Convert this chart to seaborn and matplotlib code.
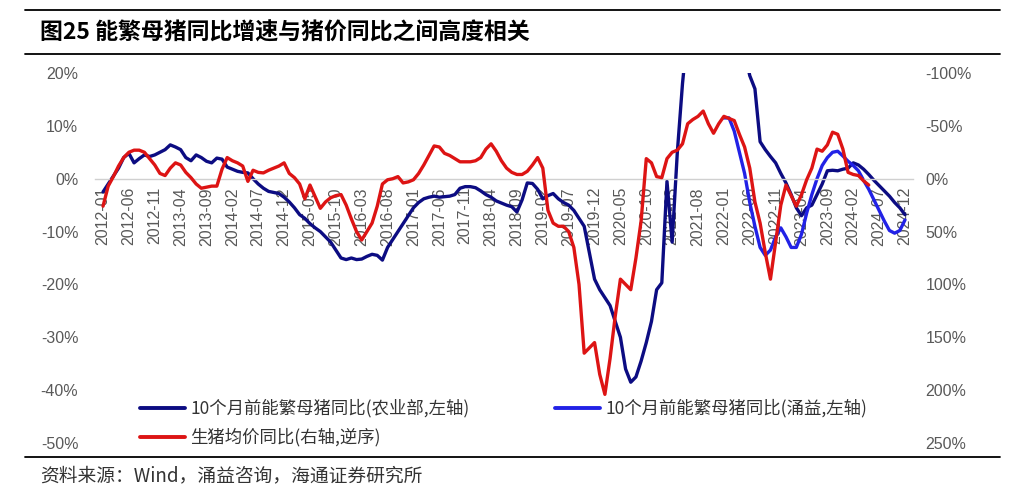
import numpy as np
import pandas as pd
import matplotlib
matplotlib.use("Agg")
import matplotlib.pyplot as plt
import seaborn as sns
from matplotlib.lines import Line2D

sns.set_theme(style="white")
plt.rcParams['font.family'] = ['Noto Sans CJK SC', 'DejaVu Sans']
plt.rcParams['axes.unicode_minus'] = False

# ---------------- data ----------------
months = pd.period_range("2012-01", "2024-12", freq="M").strftime("%Y-%m").tolist()

# 10个月前能繁母猪同比(农业部,左轴), %
sow_moa = [
    -2.5, -1.0, 0.5, 2.0, 4.0, 4.8, 3.0, 3.8, 4.5, 4.2,
    4.5, 5.0, 5.5, 6.4, 6.0, 5.5, 4.0, 3.4, 4.5, 4.0,
    3.3, 3.0, 3.9, 3.7, 2.2, 1.8, 1.4, 1.2, 1.1, 0.0,
    -1.0, -1.8, -2.4, -2.6, -2.8, -3.5, -4.4, -5.5, -6.8, -7.5,
    -8.5, -9.3, -10.0, -11.0, -12.0, -13.5, -15.0, -15.3, -15.0, -15.3,
    -15.2, -14.7, -14.3, -14.5, -15.4, -13.0, -11.5, -10.0, -8.5, -7.0,
    -5.5, -4.5, -3.8, -3.5, -3.3, -3.5, -3.4, -3.3, -3.0, -1.8,
    -1.5, -1.5, -1.7, -2.3, -3.0, -3.5, -4.2, -4.6, -5.0, -5.3,
    -6.3, -4.0, -0.8, -0.9, -2.0, -3.8, -3.2, -2.8, -3.8, -4.5,
    -5.0, -6.0, -7.5, -9.0, -14.0, -19.0, -21.0, -22.5, -24.0, -27.0,
    -30.0, -36.0, -38.5, -37.5, -34.5, -31.0, -27.0, -21.0, -19.7, -0.5,
    -12.0, 5.0, 18.0, 28.0, 35.0, 40.0, 45.0, 50.0, 52.0, 50.0,
    45.0, 40.0, 35.0, 30.0, 24.0, 19.5, 17.0, 7.0, 5.5, 4.2,
    3.0, 1.0, -0.8, -3.0, -5.5, -7.0, -5.5, -5.0, -3.0, -1.0,
    1.5, 1.6, 1.5, 1.8, 2.0, 3.0, 2.6, 1.8, 0.8, -0.3,
    -1.3, -2.3, -3.3, -4.5, -5.5, -6.8,
]

# 10个月前能繁母猪同比(涌益,左轴), %, from 2022-01
sow_yy_start = "2022-01"
sow_yy = [
    11.5, 11.5, 9.0, 5.0, 1.0, -4.5, -9.0, -13.0, -14.5, -13.5,
    -11.0, -9.3, -11.0, -13.0, -13.0, -10.5, -6.5, -3.0, 0.0, 2.5,
    4.0, 5.0, 5.2, 4.3, 3.3, 2.5, 1.5, -0.3, -2.0, -4.0,
    -6.0, -8.0, -9.8, -10.3, -9.8, -7.8,
]

# 生猪均价同比(右轴,逆序), %
hog_price = [
    26, 7, -2, -12, -20, -25, -27, -27, -25, -19,
    -13, -5, -3, -10, -15, -13, -6, -1, 5, 9,
    8, 7, 7, -9, -20, -17, -15, -12, 2.5, -8,
    -6, -5.5, -8, -10, -12, -15, -5, -1, 5, 19,
    6, 17, 28, 22, 18, 16, 15, 25, 38, 50,
    58, 50, 42, 26, 5, 1, 0, -2, 4, 3,
    1, -5, -13, -22, -31, -30, -24, -22, -19, -16,
    -16, -16, -17, -20, -28, -33, -26, -17, -10, -6,
    -4, -4, -7, -13, -20, -10, 30, 42, 45, 45,
    50, 65, 100, 165, 160, 155, 185, 204, 170, 130,
    95, 100, 105, 75, 40, -19, -15, -2, -1, -19,
    -25, -27, -33, -52, -56, -59, -64, -52, -43, -52,
    -59, -57, -55, -42, -30, -10, 22, 42, 70, 95,
    60, 25, 6, 16, 26, 15, 1, -10, -28, -26,
    -32, -44, -42, -28, -6, -4, -3, 2, 6,
]

x_ticks = months[::5]

# ---------------- frames ----------------
idx = np.arange(len(months))
df_moa = pd.DataFrame({"i": idx[:len(sow_moa)], "v": sow_moa})
s0 = months.index(sow_yy_start)
df_yy = pd.DataFrame({"i": idx[s0:s0 + len(sow_yy)], "v": sow_yy})
df_hog = pd.DataFrame({"i": idx[:len(hog_price)], "v": hog_price})

NAVY = "#0C0C82"
BLUE = "#2222E6"
RED = "#DD1414"
GRAY = "#595959"

fig = plt.figure(figsize=(10.24, 5.04), dpi=100)
ax = fig.add_axes([95 / 1024, (504 - 443) / 504, (913 - 95) / 1024, (443 - 73) / 504])
ax2 = ax.twinx()

sns.lineplot(data=df_moa, x="i", y="v", ax=ax, color=NAVY, lw=2.4)
sns.lineplot(data=df_yy, x="i", y="v", ax=ax, color=BLUE, lw=2.4)
sns.lineplot(data=df_hog, x="i", y="v", ax=ax2, color=RED, lw=2.4)

ax.set_ylim(-50, 20)
ax2.set_ylim(250, -100)
ax.set_xlim(-1.55, len(months) - 1 + 1.55)

ax.set_yticks(np.arange(-50, 21, 10))
ax.set_yticklabels([f"{v}%" for v in range(-50, 21, 10)])
ax2.set_yticks(np.arange(-100, 251, 50))
ax2.set_yticklabels([f"{v}%" for v in range(-100, 251, 50)])

tick_pos = [months.index(m) for m in x_ticks]
ax.set_xticks(tick_pos)
ax.set_xticklabels(x_ticks)

for a in (ax, ax2):
    a.set_xlabel("")
    a.set_ylabel("")
    a.grid(False)
    for s in ("top", "left", "right", "bottom"):
        a.spines[s].set_visible(False)
    a.patch.set_visible(False)

ax.spines["bottom"].set_visible(True)
ax.spines["bottom"].set_position(("data", 0))
ax.spines["bottom"].set_color("#D0D0D0")
ax.spines["bottom"].set_linewidth(1.0)

ax.tick_params(axis="x", direction="out", length=4, width=1, color="#C8C8C8", pad=2,
               labelrotation=90, labelsize=11.5, labelcolor=GRAY)
ax.tick_params(axis="y", length=0, pad=12, labelsize=11.5, labelcolor=GRAY)
ax2.tick_params(axis="y", length=0, pad=9, labelsize=11.5, labelcolor=GRAY)
for lab in ax.get_xticklabels() + ax.get_yticklabels() + ax2.get_yticklabels():
    lab.set_family(['Liberation Sans', 'DejaVu Sans'])

# ---------------- legend ----------------
h_navy = Line2D([], [], color=NAVY, lw=2.8)
h_blue = Line2D([], [], color=BLUE, lw=2.8)
h_red = Line2D([], [], color=RED, lw=2.8)
leg_kw = dict(frameon=False, fontsize=12.5, handlelength=2.6, handletextpad=0.3,
              borderpad=0, borderaxespad=0, labelspacing=0.6, loc="upper left")
leg1 = fig.legend([h_navy, h_red], ["10个月前能繁母猪同比(农业部,左轴)", "生猪均价同比(右轴,逆序)"],
                  bbox_to_anchor=(140 / 1024, (504 - 399) / 504), **leg_kw)
leg2 = fig.legend([h_blue], ["10个月前能繁母猪同比(涌益,左轴)"],
                  bbox_to_anchor=(555 / 1024, (504 - 399) / 504), **leg_kw)
for t in leg1.get_texts() + leg2.get_texts():
    t.set_color("#333333")

# ---------------- title / frame lines / source ----------------
def hline(ypx, lw):
    fig.add_artist(Line2D([25 / 1024, 1000 / 1024], [(504 - ypx) / 504] * 2,
                          transform=fig.transFigure, color="black", lw=lw))

hline(10, 1.3)
hline(54, 1.3)
hline(457, 1.3)

fig.text(40 / 1024, (504 - 33) / 504, "图25 能繁母猪同比增速与猪价同比之间高度相关",
         fontsize=16.5, fontweight="bold", va="center", ha="left", color="black")
fig.text(40 / 1024, (504 - 476) / 504, "资料来源：Wind，涌益咨询，海通证券研究所",
         fontsize=13.5, va="center", ha="left", color="#333333")

fig.savefig("out.png", dpi=100)
